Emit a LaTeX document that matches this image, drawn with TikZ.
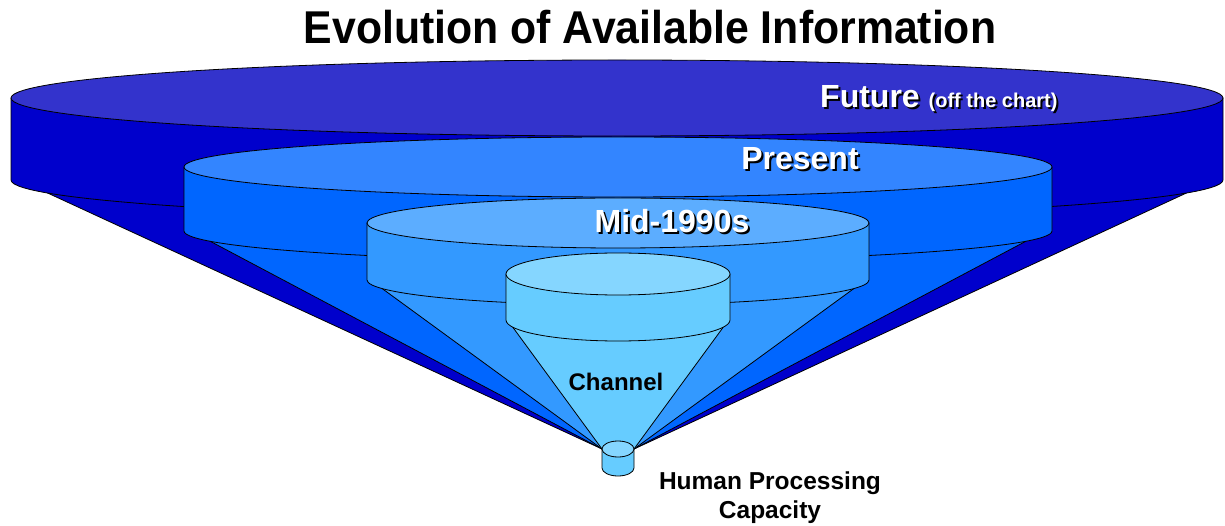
\documentclass[tikz,border=0pt]{standalone}
\usepackage{fontspec}
\setmainfont{Liberation Sans}
\usepackage{tikz}
\usepackage{xcolor}
\usetikzlibrary{calc}
\definecolor{futtop}{HTML}{3333CC}
\definecolor{futside}{HTML}{0000CC}
\definecolor{pretop}{HTML}{3385FF}
\definecolor{preside}{HTML}{0066FF}
\definecolor{midtop}{HTML}{5CADFF}
\definecolor{midside}{HTML}{3399FF}
\definecolor{chtop}{HTML}{85D6FF}
\definecolor{chside}{HTML}{66CCFF}
\newcommand\shadowed[1]{\makebox[0pt][l]{\hspace*{2pt}\raisebox{-2pt}{\color{black}#1}}{\color{white}#1}}

\begin{document}
\begin{tikzpicture}[x=1pt,y=1pt]%
  \tikzstyle{rim}=[draw=black,line width=0.8pt,line join=round]
  \tikzstyle{lab}=[inner sep=0,anchor=base,font=\bfseries\fontsize{32}{36}\selectfont]
  \useasboundingbox (0,0) rectangle (1225,525);
  \coordinate (apexL) at (602,76);
  \coordinate (apexR) at (634,76);
  % future
  \coordinate (fut) at (617,427);
  \coordinate (futB) at (617,345);
  \filldraw[rim,fill=futside] ($(futB)+(200:606 and 38)$) -- (apexL) -- (apexR) -- ($(futB)+(340:606 and 38)$) -- cycle;
  \filldraw[rim,fill=futside] ($(fut)+(-606,0)$) -- ++(0,-82) arc[start angle=180,end angle=360,x radius=606,y radius=38] -- ++(0,82) -- cycle;
  \filldraw[rim,fill=futtop] (fut) ellipse[x radius=606,y radius=38];
  % present
  \coordinate (pre) at (618,358);
  \coordinate (preB) at (618,294);
  \filldraw[rim,fill=preside] ($(preB)+(200:434 and 30)$) -- (apexL) -- (apexR) -- ($(preB)+(340:434 and 30)$) -- cycle;
  \filldraw[rim,fill=preside] ($(pre)+(-434,0)$) -- ++(0,-64) arc[start angle=180,end angle=360,x radius=434,y radius=30] -- ++(0,64) -- cycle;
  \filldraw[rim,fill=pretop] (pre) ellipse[x radius=434,y radius=30];
  % mid-1990s
  \coordinate (mid) at (618,302);
  \coordinate (midB) at (618,245);
  \filldraw[rim,fill=midside] ($(midB)+(200:251 and 25)$) -- (apexL) -- (apexR) -- ($(midB)+(340:251 and 25)$) -- cycle;
  \filldraw[rim,fill=midside] ($(mid)+(-251,0)$) -- ++(0,-57) arc[start angle=180,end angle=360,x radius=251,y radius=25] -- ++(0,57) -- cycle;
  \filldraw[rim,fill=midtop] (mid) ellipse[x radius=251,y radius=25];
  % channel
  \coordinate (ch) at (618,251);
  \coordinate (chB) at (618,205);
  \filldraw[rim,fill=chside] ($(chB)+(200:112 and 21)$) -- (apexL) -- (apexR) -- ($(chB)+(340:112 and 21)$) -- cycle;
  \filldraw[rim,fill=chside] ($(ch)+(-112,0)$) -- ++(0,-46) arc[start angle=180,end angle=360,x radius=112,y radius=21] -- ++(0,46) -- cycle;
  \filldraw[rim,fill=chtop] (ch) ellipse[x radius=112,y radius=21];
  % human capacity
  \coordinate (hum) at (618,76);
  \filldraw[rim,fill=chside] ($(hum)+(-16,0)$) -- ++(0,-19) arc[start angle=180,end angle=360,x radius=16,y radius=8] -- ++(0,19) -- cycle;
  \filldraw[rim,fill=chtop] (hum) ellipse[x radius=16,y radius=8];
  % labels
  \node[inner sep=0,anchor=base,font=\bfseries\fontsize{46}{50}\selectfont] (title) at (650,481)
    {\scalebox{0.93}[1]{Evolution of Available Information}};
  \node[lab,anchor=base west] (future) at (820,417)
    {\shadowed{Future} {\fontsize{20}{23}\selectfont\shadowed{(off the chart)}}};
  \node[lab] (present) at (800,355) {\shadowed{Present}};
  \node[lab] (mid90) at (672,292) {\shadowed{Mid-1990s}};
  \node[lab,font=\bfseries\fontsize{24}{28}\selectfont] (channel) at (616,135) {Channel};
  \node[inner sep=0,anchor=north,align=center,font=\bfseries\fontsize{24.5}{29}\selectfont] (human) at (770,53)
    {Human Processing\\Capacity};
\end{tikzpicture}
\end{document}
